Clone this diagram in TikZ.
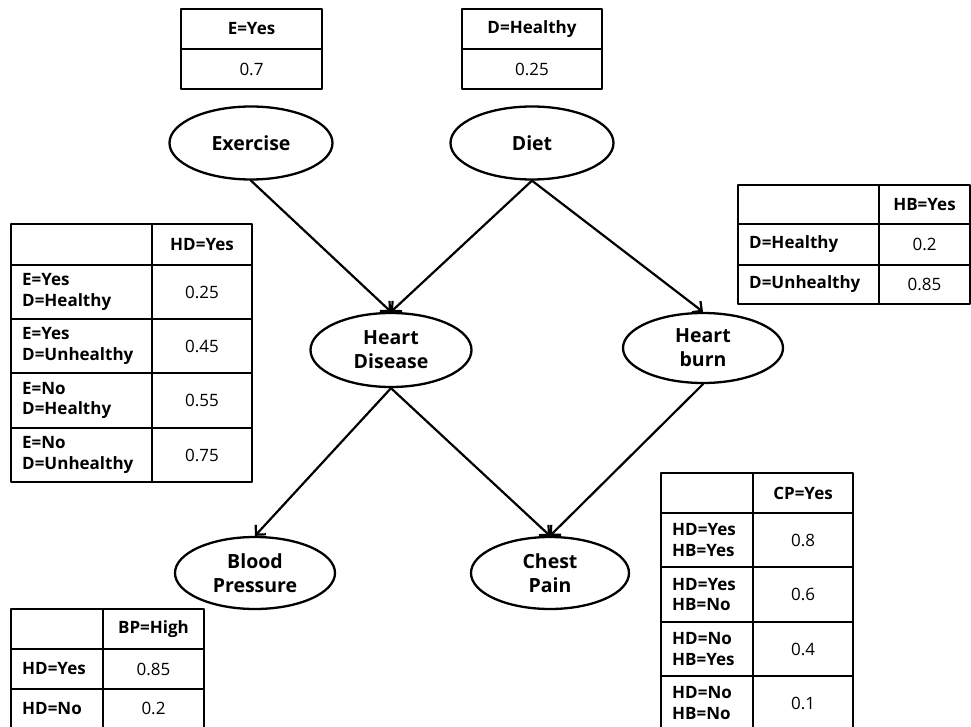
\documentclass[tikz,border=0pt]{standalone}
\usepackage{fontspec}
\setmainfont{Open Sans}
\usepackage{tikz}
\usetikzlibrary{arrows.meta}
\usetikzlibrary{shapes.geometric}

\begin{document}
\begin{tikzpicture}[line cap=round,line join=round, x=1pt,y=-1pt,
  var/.style={draw, line width=2.3pt, ellipse, inner sep=0pt, align=center,
    font=\fontsize{19.5}{24}\selectfont\bfseries},
  arr/.style={line width=2.2pt, -{Straight Barb[length=7pt, width=14pt, line width=2.2pt]}},
  tbl/.style={line width=1.4pt, line cap=butt},
  hdr/.style={inner sep=0pt, font=\fontsize{17}{20}\selectfont\bfseries},
  cond/.style={inner sep=0pt, anchor=west, align=left, font=\fontsize{17}{20.5}\selectfont\bfseries},
  prob/.style={inner sep=0pt, font=\fontsize{17}{20}\selectfont}]
\useasboundingbox (0,0) rectangle (971,727);
\clip (0,0) rectangle (971,727);
% variables
\node[var, minimum width=163pt, minimum height=73pt] (ex) at (251,143) {Exercise};
\node[var, minimum width=163pt, minimum height=73pt] (diet) at (532,143) {Diet};
\node[var, minimum width=161pt, minimum height=74pt] (hd) at (391,350) {Heart\\Disease};
\node[var, minimum width=160pt, minimum height=70pt] (hb) at (703,348) {Heart\\burn};
\node[var, minimum width=160pt, minimum height=72pt] (bp) at (255,573) {Blood\\Pressure};
\node[var, minimum width=158pt, minimum height=72pt] (cp) at (550,573) {Chest\\Pain};
% edges
\draw [arr] (ex.south) -- (hd.north);
\draw [arr] (diet.south) -- (hd.north);
\draw [arr] (diet.south) -- (hb.north);
\draw [arr] (hd.south) -- (bp.north);
\draw [arr] (hd.south) -- (cp.north);
\draw [arr] (hb.south) -- (cp.north);
% P(E)
\draw [tbl] (181,9) rectangle (322,89) (181,49) -- (322,49);
\node[hdr] (eyes) at (251.5,29) {E=Yes};
\node[prob] (pe) at (251.5,69) {0.7};
% P(D)
\draw [tbl] (462,9) rectangle (602,89) (462,49) -- (602,49);
\node[hdr] (dhealthy) at (532,29) {D=Healthy};
\node[prob] (pd) at (532,69) {0.25};
% P(HD|E,D)
\draw [tbl] (11,224) rectangle (252,482) (152,224) -- (152,482);
\foreach \y in {265,319,373,428} \draw [tbl] (11,\y) -- (252,\y);
\node[hdr] (hdyes) at (202,244.5) {HD=Yes};
\node[cond] (hdc1) at (22,292) {E=Yes\\D=Healthy};
\node[cond] (hdc2) at (22,346) {E=Yes\\D=Unhealthy};
\node[cond] (hdc3) at (22,400.5) {E=No\\D=Healthy};
\node[cond] (hdc4) at (22,455) {E=No\\D=Unhealthy};
\node[prob] (hdp1) at (202,292) {0.25};
\node[prob] (hdp2) at (202,346) {0.45};
\node[prob] (hdp3) at (202,400.5) {0.55};
\node[prob] (hdp4) at (202,455) {0.75};
% P(HB|D)
\draw [tbl] (738,185) rectangle (970,304) (879,185) -- (879,304);
\foreach \y in {224,265} \draw [tbl] (738,\y) -- (970,\y);
\node[hdr] (hbyes) at (924.5,204.5) {HB=Yes};
\node[cond] (hbc1) at (749,244.5) {D=Healthy};
\node[cond] (hbc2) at (749,284.5) {D=Unhealthy};
\node[prob] (hbp1) at (924.5,244.5) {0.2};
\node[prob] (hbp2) at (924.5,284.5) {0.85};
% P(CP|HD,HB)
\draw [tbl] (661,473) rectangle (853,740) (753,473) -- (753,740);
\foreach \y in {513,567,622,676} \draw [tbl] (661,\y) -- (853,\y);
\node[hdr] (cpyes) at (803,493) {CP=Yes};
\node[cond] (cpc1) at (672,540) {HD=Yes\\HB=Yes};
\node[cond] (cpc2) at (672,594.5) {HD=Yes\\HB=No};
\node[cond] (cpc3) at (672,649) {HD=No\\HB=Yes};
\node[cond] (cpc4) at (672,703) {HD=No\\HB=No};
\node[prob] (cpp1) at (803,540) {0.8};
\node[prob] (cpp2) at (803,594.5) {0.6};
\node[prob] (cpp3) at (803,649) {0.4};
\node[prob] (cpp4) at (803,703) {0.1};
% P(BP|HD)
\draw [tbl] (11,609) rectangle (204,740) (103,609) -- (103,740);
\foreach \y in {649,689} \draw [tbl] (11,\y) -- (204,\y);
\node[hdr] (bphigh) at (153.5,629) {BP=High};
\node[cond] (bpc1) at (22,669) {HD=Yes};
\node[cond] (bpc2) at (22,708.5) {HD=No};
\node[prob] (bpp1) at (153.5,669) {0.85};
\node[prob] (bpp2) at (153.5,708.5) {0.2};
\end{tikzpicture}
\end{document}
